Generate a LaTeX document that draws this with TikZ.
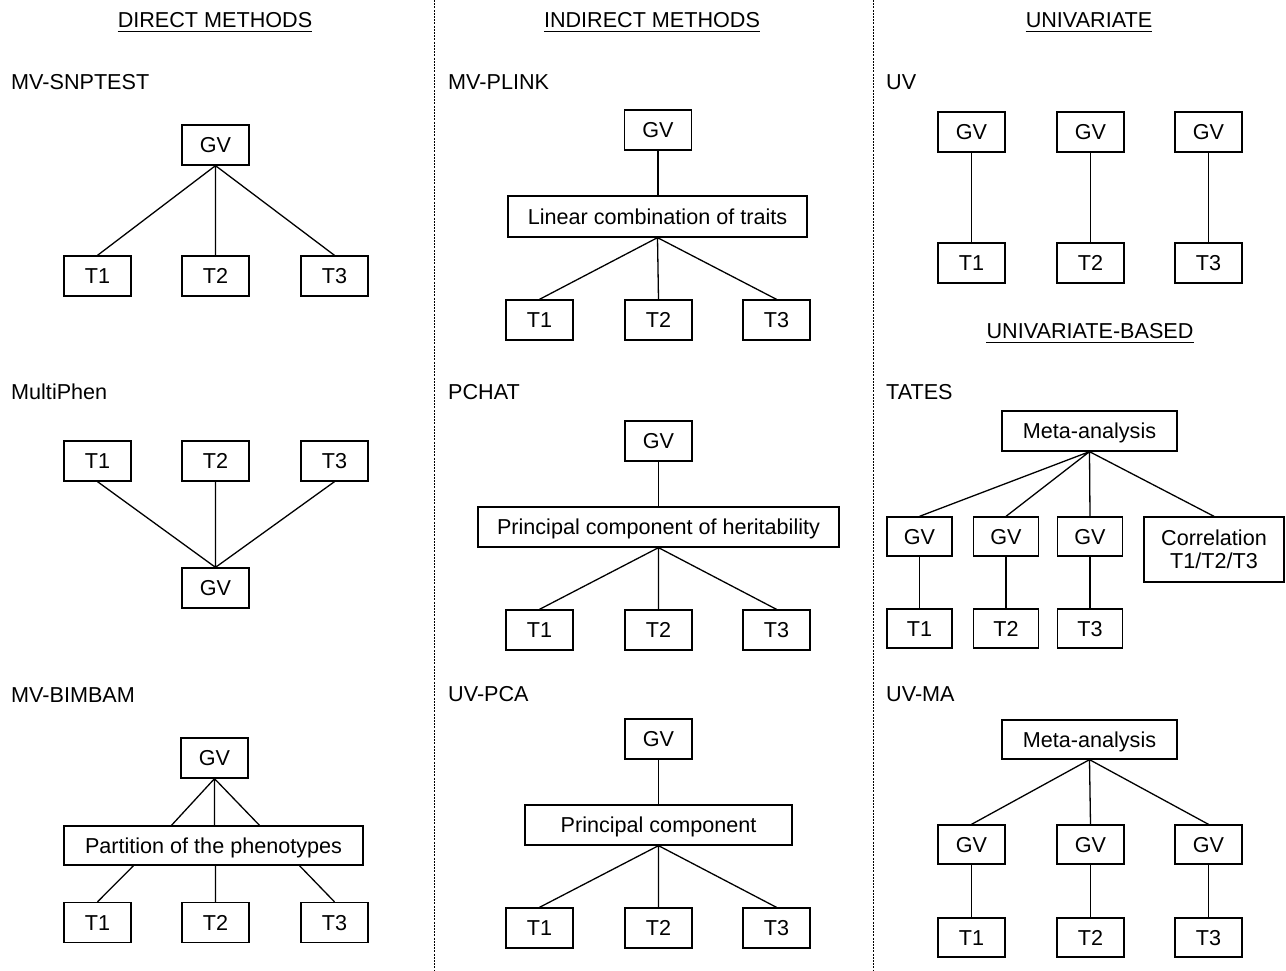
\documentclass[tikz,border=0pt]{standalone}
\usepackage{fontspec}
\setmainfont{Liberation Sans}
\newcommand\myfs{\fontsize{21.6}{25}\selectfont}
\begin{document}
\begin{tikzpicture}[x=1pt,y=-1pt,
  bx/.style={draw, line width=1.3pt, minimum width=67pt, minimum height=40pt, inner sep=0pt, font=\myfs, text height=15.5pt, text depth=0pt},
  lbl/.style={anchor=base west, inner sep=0pt, font=\myfs},
  hdr/.style={anchor=base, inner sep=0pt, font=\myfs},
  ln/.style={line width=1.3pt},
  ul/.style={line width=1pt},
  sep/.style={line width=0.9pt, dash pattern=on 2pt off 1.2pt}]
\useasboundingbox (0,0) rectangle (1286,971);
% separators
\coordinate (s1t) at (434,0); \coordinate (s1b) at (434,971);
\coordinate (s2t) at (873,0); \coordinate (s2b) at (873,971);
\draw[sep] (s1t) -- (s1b);
\draw[sep] (s2t) -- (s2b);
% ---------- column 1 ----------
\node[hdr] (h1) at (215,28) {DIRECT METHODS};
\draw[ul] ([yshift=-4pt]h1.base west) -- ([yshift=-4pt]h1.base east);
\node[lbl] (l1) at (11,90) {MV-SNPTEST};
\node[bx] (a0) at (215.5,145) {GV};
\node[bx] (a1) at (97.5,276) {T1};
\node[bx] (a2) at (215.5,276) {T2};
\node[bx] (a3) at (334.5,276) {T3};
\draw[ln] (a0.south) -- (a1.north) (a0.south) -- (a2.north) (a0.south) -- (a3.north);

\node[lbl] (l2) at (11,399) {MultiPhen};
\node[bx] (b1) at (97.5,461) {T1};
\node[bx] (b2) at (215.5,461) {T2};
\node[bx] (b3) at (334.5,461) {T3};
\node[bx] (b0) at (215.5,588) {GV};
\draw[ln] (b1.south) -- (b0.north) (b2.south) -- (b0.north) (b3.south) -- (b0.north);

\node[lbl] (l3) at (11,702) {MV-BIMBAM};
\node[bx] (c0) at (214.5,758) {GV};
\node[bx, minimum width=299pt, minimum height=39pt] (cp) at (213.5,845.5) {Partition of the phenotypes};
\node[bx] (c1) at (97.5,922.5) {T1};
\node[bx] (c2) at (215.5,922.5) {T2};
\node[bx] (c3) at (334.5,922.5) {T3};
\draw[ln] (c0.south) -- ([xshift=-42pt]cp.north)
          (c0.south) -- (c0.south |- cp.north)
          (c0.south) -- ([xshift=46pt]cp.north);
\draw[ln] ([xshift=-80pt]cp.south) -- (c1.north)
          (c2.north |- cp.south) -- (c2.north)
          ([xshift=86pt]cp.south) -- (c3.north);
% ---------- column 2 ----------
\node[hdr] (h2) at (652,28) {INDIRECT METHODS};
\draw[ul] ([yshift=-4pt]h2.base west) -- ([yshift=-4pt]h2.base east);
\node[lbl] (l4) at (448,90) {MV-PLINK};
\node[bx] (d0) at (658,130) {GV};
\node[bx, minimum width=299pt, minimum height=41pt] (dl) at (657.5,216.5) {Linear combination of traits};
\node[bx] (d1) at (539.5,320) {T1};
\node[bx] (d2) at (658.5,320) {T2};
\node[bx] (d3) at (776.5,320) {T3};
\draw[ln] (d0.south) -- (d0.south |- dl.north);
\draw[ln] (dl.south) -- (d1.north) (dl.south) -- (d2.north) (dl.south) -- (d3.north);

\node[lbl] (l5) at (448,399) {PCHAT};
\node[bx] (e0) at (658.5,441) {GV};
\node[bx, minimum width=361pt] (ep) at (658.5,527) {Principal component of heritability};
\node[bx] (e1) at (539.5,630) {T1};
\node[bx] (e2) at (658.5,630) {T2};
\node[bx] (e3) at (776.5,630) {T3};
\draw[ln] (e0.south) -- (ep.north);
\draw[ln] (ep.south) -- (e1.north) (ep.south) -- (e2.north) (ep.south) -- (e3.north);

\node[lbl] (l6) at (448,701) {UV-PCA};
\node[bx] (f0) at (658.5,739) {GV};
\node[bx, minimum width=267pt] (fp) at (658.5,825) {Principal component};
\node[bx] (f1) at (539.5,928) {T1};
\node[bx] (f2) at (658.5,928) {T2};
\node[bx] (f3) at (776.5,928) {T3};
\draw[ln] (f0.south) -- (fp.north);
\draw[ln] (fp.south) -- (f1.north) (fp.south) -- (f2.north) (fp.south) -- (f3.north);
% ---------- column 3 ----------
\node[hdr] (h3) at (1089,28) {UNIVARIATE};
\draw[ul] ([yshift=-4pt]h3.base west) -- ([yshift=-4pt]h3.base east);
\node[lbl] (l7) at (886,90) {UV};
\node[bx] (g1) at (971.5,132) {GV};
\node[bx] (g2) at (1090.5,132) {GV};
\node[bx] (g3) at (1208.5,132) {GV};
\node[bx] (u1) at (971.5,263) {T1};
\node[bx] (u2) at (1090.5,263) {T2};
\node[bx] (u3) at (1208.5,263) {T3};
\draw[ln] (g1.south) -- (u1.north) (g2.south) -- (u2.north) (g3.south) -- (u3.north);

\node[hdr] (h4) at (1090,338) {UNIVARIATE-BASED};
\draw[ul] ([yshift=-4pt]h4.base west) -- ([yshift=-4pt]h4.base east);
\node[lbl] (l8) at (886,399) {TATES};
\node[bx, minimum width=175pt] (m) at (1089.5,431) {Meta-analysis};
\node[bx, minimum width=65pt, minimum height=39pt] (k1) at (919.5,536.5) {GV};
\node[bx, minimum width=65pt, minimum height=39pt] (k2) at (1006,536.5) {GV};
\node[bx, minimum width=65pt, minimum height=39pt] (k3) at (1090,536.5) {GV};
\node[draw, line width=1.3pt, inner sep=0pt, minimum width=140pt, minimum height=65pt, align=center, font=\fontsize{21.6}{23.5}\selectfont] (kc) at (1214,549.5) {Correlation\\T1/T2/T3};
\node[bx, minimum width=65pt, minimum height=39pt] (kt1) at (919.5,628.5) {T1};
\node[bx, minimum width=65pt, minimum height=39pt] (kt2) at (1006,628.5) {T2};
\node[bx, minimum width=65pt, minimum height=39pt] (kt3) at (1090,628.5) {T3};
\draw[ln] (m.south) -- (k1.north) (m.south) -- (k2.north) (m.south) -- (k3.north) (m.south) -- (kc.north);
\draw[ln] (k1.south) -- (kt1.north) (k2.south) -- (kt2.north) (k3.south) -- (kt3.north);

\node[lbl] (l9) at (886,701) {UV-MA};
\node[bx, minimum width=175pt, minimum height=39pt] (n) at (1089.5,739.5) {Meta-analysis};
\node[bx, minimum height=39pt] (n1) at (971.5,844.5) {GV};
\node[bx, minimum height=39pt] (n2) at (1090.5,844.5) {GV};
\node[bx, minimum height=39pt] (n3) at (1208.5,844.5) {GV};
\node[bx, minimum height=39pt] (nt1) at (971.5,937.5) {T1};
\node[bx, minimum height=39pt] (nt2) at (1090.5,937.5) {T2};
\node[bx, minimum height=39pt] (nt3) at (1208.5,937.5) {T3};
\draw[ln] (n.south) -- (n1.north) (n.south) -- (n2.north) (n.south) -- (n3.north);
\draw[ln] (n1.south) -- (nt1.north) (n2.south) -- (nt2.north) (n3.south) -- (nt3.north);
\end{tikzpicture}
\end{document}
